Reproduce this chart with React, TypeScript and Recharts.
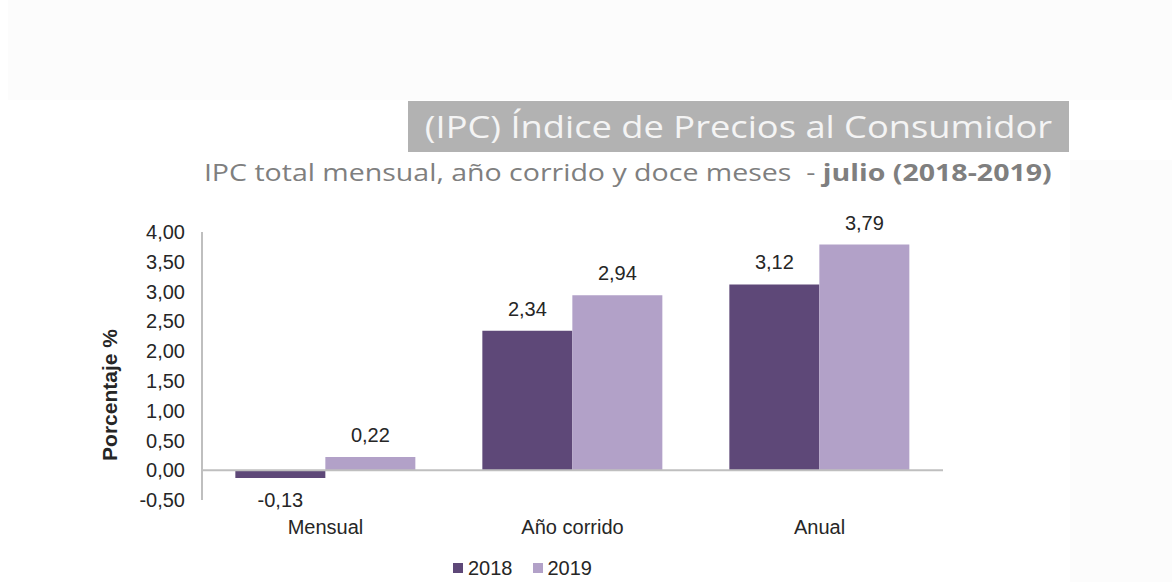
import { BarChart, Bar, XAxis, YAxis, Legend, ReferenceLine, LabelList } from 'recharts'

const categories = ['Mensual', 'Año corrido', 'Anual']
const values2018 = [-0.13, 2.34, 3.12]
const values2019 = [0.22, 2.94, 3.79]
const yTicks = [-0.5, 0, 0.5, 1, 1.5, 2, 2.5, 3, 3.5, 4]

const data = categories.map((name, i) => ({
  name,
  y2018: values2018[i],
  y2019: values2019[i],
}))

const DARK = '#5e4878'
const LIGHT = '#b2a1c8'
const TEXT = '#262626'
const fmt = (v: number) => v.toFixed(2).replace('.', ',')

// legend drawn by hand so the spacing matches the original
function renderLegend(props: any) {
  const items = props.payload || []
  return (
    <div style={{ display: 'flex', height: 24, alignItems: 'center', fontSize: 20, color: TEXT }}>
      {items.map((item: any) => (
        <div key={item.value} style={{ display: 'flex', alignItems: 'center', marginRight: 20 }}>
          <div style={{ width: 10, height: 10, background: item.color, marginRight: 5 }} />
          <span>{item.value}</span>
        </div>
      ))}
    </div>
  )
}

export default function App() {
  return (
    <div style={{ position: 'absolute', left: 0, top: 0, width: 1172, height: 582, background: '#fff', overflow: 'hidden' }}>
      <div style={{ position: 'absolute', left: 8, top: 0, width: 1164, height: 100, background: '#fcfcfc' }} />
      <div style={{ position: 'absolute', left: 1070, top: 160, width: 102, height: 422, background: '#fcfcfc' }} />
      <div style={{ position: 'absolute', left: 408, top: 101, width: 661, height: 51, background: '#b2b2b2' }} />
      <div
        style={{
          position: 'absolute', right: 120, top: 104, color: '#f4f4f4', fontFamily: '"Open Sans"',
          fontSize: 31, lineHeight: '44px', whiteSpace: 'nowrap', transform: 'scaleX(1.17)', transformOrigin: 'right center',
        }}
      >
        (IPC) Índice de Precios al Consumidor
      </div>
      <div
        style={{
          position: 'absolute', right: 120, top: 155, color: '#7f7f7f', fontFamily: '"Open Sans"',
          fontSize: 23, lineHeight: '34px', whiteSpace: 'nowrap', transform: 'scaleX(1.24)', transformOrigin: 'right center',
        }}
      >
        IPC total mensual, año corrido y doce meses&nbsp; - <b>julio (2018-2019)</b>
      </div>
      <div
        style={{
          position: 'absolute', left: 110, top: 395, transform: 'translate(-50%, -50%) rotate(-90deg)',
          fontFamily: '"Liberation Sans", Arial', fontWeight: 'bold', fontSize: 21, color: TEXT, whiteSpace: 'nowrap',
        }}
      >
        Porcentaje %
      </div>
      <div style={{ position: 'absolute', left: 0, top: 0 }}>
        <BarChart
          width={1172}
          height={582}
          data={data}
          margin={{ top: 232, right: 229, bottom: 18, left: 102 }}
          barGap={0}
          barCategoryGap="13.5%"
          style={{ fontFamily: '"Liberation Sans", Arial' }}
        >
          <XAxis
            dataKey="name"
            axisLine={false}
            tickLine={false}
            tickSize={0}
            tickMargin={20}
            height={40}
            tick={{ fill: TEXT, fontSize: 20 }}
          />
          <YAxis
            domain={[-0.5, 4]}
            ticks={yTicks}
            interval={0}
            width={100}
            tickFormatter={fmt}
            tickLine={false}
            tickSize={0}
            tickMargin={17}
            axisLine={{ stroke: '#bfbfbf', strokeWidth: 2 }}
            tick={{ fill: TEXT, fontSize: 20 }}
          />
          <ReferenceLine y={0} stroke="#bfbfbf" strokeWidth={2} />
          <Bar dataKey="y2018" name="2018" fill={DARK} isAnimationActive={false}>
            <LabelList dataKey="y2018" position="top" offset={15} formatter={(v: number) => fmt(v)} fill={TEXT} fontSize={20} />
          </Bar>
          <Bar dataKey="y2019" name="2019" fill={LIGHT} isAnimationActive={false}>
            <LabelList dataKey="y2019" position="top" offset={15} formatter={(v: number) => fmt(v)} fill={TEXT} fontSize={20} />
          </Bar>
          <Legend
            content={renderLegend}
            wrapperStyle={{ left: 453, top: 556, width: 200, height: 24 }}
          />
        </BarChart>
      </div>
    </div>
  )
}
